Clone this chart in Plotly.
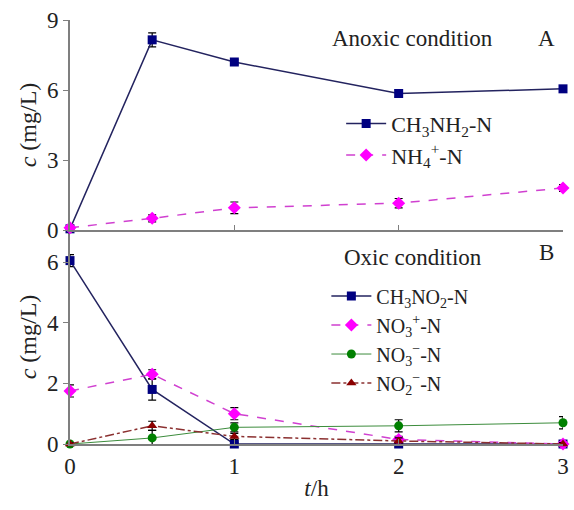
import plotly.graph_objects as go

# ---- data ----
t = [0, 0.5, 1, 2, 3]

# Panel A (anoxic)
ch3nh2 = [0.05, 8.15, 7.2, 5.85, 6.05]
ch3nh2_err = [0.1, 0.3, 0.1, 0.15, 0.1]
nh4 = [0.1, 0.5, 0.95, 1.15, 1.8]
nh4_err = [0.1, 0.15, 0.25, 0.2, 0.15]

# Panel B (oxic)
ch3no2 = [6.05, 1.8, 0.0, 0.0, 0.0]
ch3no2_err = [0.2, 0.35, 0.05, 0.05, 0.05]
no3p = [1.75, 2.3, 1.0, 0.15, 0.0]
no3p_err = [0.2, 0.15, 0.2, 0.1, 0.05]
no3m = [0.0, 0.2, 0.55, 0.6, 0.7]
no3m_err = [0.05, 0.25, 0.15, 0.2, 0.2]
no2m = [0.0, 0.6, 0.25, 0.1, 0.0]
no2m_err = [0.05, 0.15, 0.1, 0.1, 0.05]

xticks = [0, 1, 2, 3]
ticks_a = [0, 3, 6, 9]
ticks_b = [0, 2, 4, 6]

FONT = "Liberation Serif, Times New Roman, DejaVu Serif, serif"
AX = "#7f7f7f"

fig = go.Figure()

def err(vals):
    return dict(type="data", array=vals, visible=True, color="black", thickness=1.2, width=4)

fig.add_trace(go.Scatter(x=t, y=ch3nh2, error_y=err(ch3nh2_err), mode="lines+markers",
    name="CH<sub>3</sub>NH<sub>2</sub>-N", line=dict(color="#23235f", width=1.5),
    marker=dict(symbol="square", size=9, color="#000080"), xaxis="x2", yaxis="y2",
    legend="legend", cliponaxis=False))
fig.add_trace(go.Scatter(x=t, y=nh4, error_y=err(nh4_err), mode="lines+markers",
    name="NH<sub>4</sub><sup>+</sup>-N", line=dict(color="#d040d0", width=1.5, dash="dash"),
    marker=dict(symbol="diamond", size=10, color="#ff00ff"), xaxis="x2", yaxis="y2",
    legend="legend", cliponaxis=False))

fig.add_trace(go.Scatter(x=t, y=ch3no2, error_y=err(ch3no2_err), mode="lines+markers",
    name="CH<sub>3</sub>NO<sub>2</sub>-N", line=dict(color="#23235f", width=1.5),
    marker=dict(symbol="square", size=9, color="#000080"), xaxis="x", yaxis="y",
    legend="legend2", cliponaxis=False))
fig.add_trace(go.Scatter(x=t, y=no3p, error_y=err(no3p_err), mode="lines+markers",
    name="NO<sub>3</sub><sup>+</sup>-N", line=dict(color="#d040d0", width=1.5, dash="dash"),
    marker=dict(symbol="diamond", size=10, color="#ff00ff"), xaxis="x", yaxis="y",
    legend="legend2", cliponaxis=False))
fig.add_trace(go.Scatter(x=t, y=no3m, error_y=err(no3m_err), mode="lines+markers",
    name="NO<sub>3</sub><sup>−</sup>-N", line=dict(color="#3c8c3c", width=1),
    marker=dict(symbol="circle", size=9, color="#008000"), xaxis="x", yaxis="y",
    legend="legend2", cliponaxis=False))
fig.add_trace(go.Scatter(x=t, y=no2m, error_y=err(no2m_err), mode="lines+markers",
    name="NO<sub>2</sub><sup>−</sup>-N", line=dict(color="#8b3030", width=1.5, dash="dashdot"),
    marker=dict(symbol="triangle-up", size=9, color="#8b0000"), xaxis="x", yaxis="y",
    legend="legend2", cliponaxis=False))

split = 214 / 424

axis_common = dict(showline=True, linecolor=AX, linewidth=2, showgrid=False, zeroline=False,
                   tickfont=dict(family=FONT, size=23, color="#222"), ticklen=5, tickcolor=AX,
                   automargin=False)

def note(text, x, y):
    return dict(text=text, x=x, y=y, xref="paper", yref="paper", xanchor="center",
                yanchor="middle", showarrow=False, font=dict(family=FONT, size=23))

fig.update_layout(
    width=574, height=510,
    margin=dict(l=70, r=11, t=20, b=66),
    paper_bgcolor="white", plot_bgcolor="white",
    font=dict(family=FONT, size=19, color="#222"),
    xaxis=dict(domain=[0, 1], range=[0, 3], tickvals=xticks, ticks="inside",
               title=dict(text="<i>t</i>/h", font=dict(family=FONT, size=23), standoff=2),
               anchor="y", **axis_common),
    yaxis=dict(domain=[0, split], range=[0, 7.06], tickvals=ticks_b, ticks="outside",
               title=dict(text="<i>c</i> (mg/L)", font=dict(family=FONT, size=24), standoff=4),
               anchor="x", **axis_common),
    xaxis2=dict(domain=[0, 1], range=[0, 3], tickvals=xticks, ticks="inside",
                showticklabels=False, matches="x", anchor="y2", **axis_common),
    yaxis2=dict(domain=[split, 1], range=[0, 9], tickvals=ticks_a, ticks="outside",
                title=dict(text="<i>c</i> (mg/L)", font=dict(family=FONT, size=24), standoff=4),
                anchor="x2", **axis_common),
    legend=dict(x=0.55, y=0.805, xanchor="left", yanchor="top", bgcolor="rgba(0,0,0,0)",
                font=dict(family=FONT, size=22), tracegroupgap=0, itemwidth=40),
    legend2=dict(x=0.52, y=0.395, xanchor="left", yanchor="top", bgcolor="rgba(0,0,0,0)",
                 font=dict(family=FONT, size=20), tracegroupgap=0, itemwidth=40),
    annotations=[
        note("Anoxic condition", 0.695, 0.957),
        note("A", 0.967, 0.957),
        note("Oxic condition", 0.695, 0.44),
        note("B", 0.967, 0.452),
    ],
)

fig.write_html("out.html", config={"displayModeBar": False},
               post_script="document.body.style.margin='0';document.body.style.overflow='hidden';")
